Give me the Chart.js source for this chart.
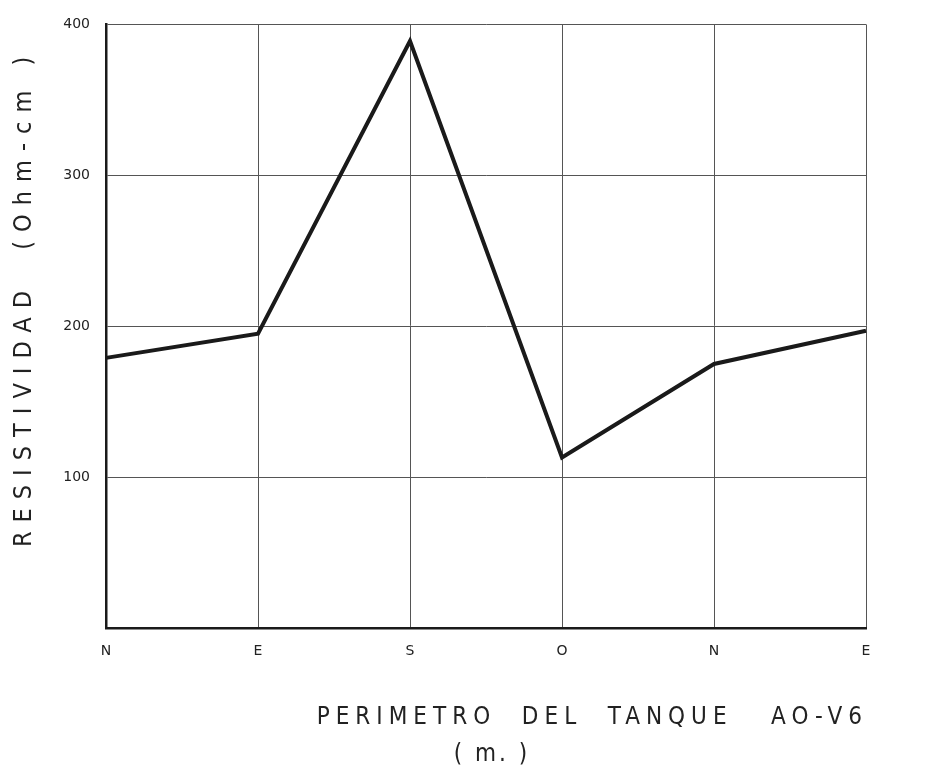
<!DOCTYPE html>
<html>
<head>
<meta charset="utf-8">
<script src="https://cdn.jsdelivr.net/npm/chart.js"></script>
<style>
  html, body { margin: 0; padding: 0; background: #fff; }
  #wrap { width: 946px; height: 774px; }
</style>
</head>
<body>
<div id="wrap"><canvas id="myChart" width="946" height="774"></canvas></div>
<script>
// Datos
const puntos = ['N', 'E', 'S', 'O', 'N', 'E'];
const resistividad = [179, 195, 389, 113, 175, 197];
const yTicks = [100, 200, 300, 400];

const tituloY = 'RESISTIVIDAD  (Ohm-cm )';
const tituloX = 'PERIMETRO  DEL  TANQUE   AO-V6';
const unidadX = '( m. )';

const ink = '#1a1a1a';
const fuente = '"DejaVu Sans Condensed", "DejaVu Sans"';

// Titulos con espaciado entre letras, como en el dibujo original
const titulos = {
  id: 'titulos',
  afterDraw(chart) {
    const ctx = chart.ctx;
    const a = chart.chartArea;
    ctx.save();
    ctx.fillStyle = '#222';
    ctx.textBaseline = 'middle';

    ctx.save();
    ctx.font = '25px ' + fuente;
    ctx.letterSpacing = '9px';
    ctx.translate(a.left - 82, a.top + 273);
    ctx.rotate(-Math.PI / 2);
    ctx.textAlign = 'center';
    ctx.fillText(tituloY, 0, 0);
    ctx.restore();

    ctx.font = '24px ' + fuente;
    ctx.letterSpacing = '6px';
    ctx.textAlign = 'right';
    ctx.fillText(tituloX, a.right + 2, a.bottom + 90);
    ctx.letterSpacing = '3px';
    ctx.textAlign = 'center';
    ctx.fillText(unidadX, a.left + 386, a.bottom + 127);
    ctx.restore();
  }
};

new Chart(document.getElementById('myChart').getContext('2d'), {
  type: 'line',
  data: {
    labels: puntos,
    datasets: [{
      data: resistividad,
      borderColor: ink,
      borderWidth: 4,
      pointRadius: 0,
      tension: 0,
      fill: false
    }]
  },
  options: {
    responsive: false,
    animation: false,
    layout: { padding: { top: 22, right: 80, left: 0, bottom: 0 } },
    plugins: { legend: { display: false }, tooltip: { enabled: false } },
    scales: {
      x: {
        offset: false,
        grid: { color: '#555', lineWidth: 1, drawTicks: false },
        border: { color: ink, width: 2.5 },
        ticks: {
          color: '#222',
          padding: 15,
          font: { family: 'DejaVu Sans', size: 14 },
          maxRotation: 0
        },
        afterFit(s) { s.height = 146; }
      },
      y: {
        min: 0,
        max: 400,
        afterBuildTicks(s) { s.ticks = [0].concat(yTicks).map(v => ({ value: v })); },
        grid: { color: '#555', lineWidth: 1, drawTicks: false },
        border: { color: ink, width: 2.5 },
        ticks: {
          color: '#222',
          padding: 16,
          font: { family: 'DejaVu Sans', size: 14 },
          callback: v => (v === 0 ? '' : v)
        },
        afterFit(s) { s.width = 106; }
      }
    }
  },
  plugins: [titulos]
});
</script>
</body>
</html>
